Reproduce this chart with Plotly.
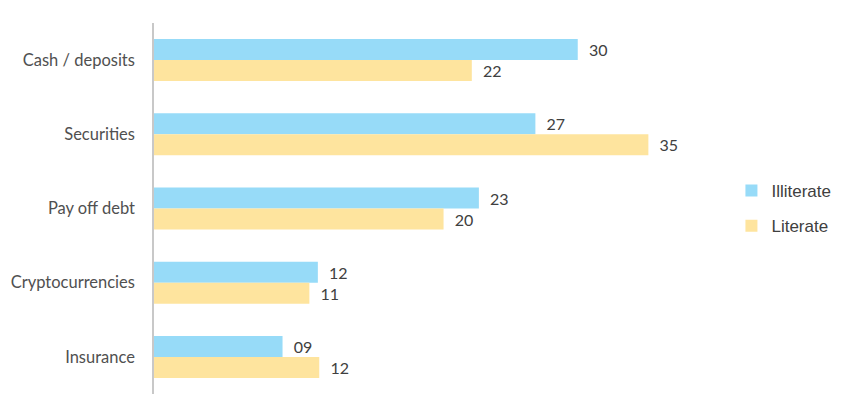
import plotly.graph_objects as go

categories = ["Cash / deposits", "Securities", "Pay off debt", "Cryptocurrencies", "Insurance"]
illiterate = [30.0, 27.0, 23.0, 11.6, 9.1]
literate = [22.5, 35.0, 20.5, 11.0, 11.7]
illiterate_labels = ["30", "27", "23", "12", "09"]
literate_labels = ["22", "35", "20", "11", "12"]

BLUE = "#97DBF8"
YELLOW = "#FEE49E"
LABEL_FONT = dict(family="Lato", size=16, color="#404040")

fig = go.Figure()
fig.add_trace(go.Bar(
    y=categories, x=illiterate, orientation="h", name="Illiterate",
    legendgroup="a",
    marker=dict(color=BLUE, line=dict(width=0)),
    text=["  " + t for t in illiterate_labels], textposition="outside",
    textfont=LABEL_FONT, cliponaxis=False,
))
fig.add_trace(go.Bar(
    y=categories, x=literate, orientation="h", name="Literate",
    legendgroup="b",
    marker=dict(color=YELLOW, line=dict(width=0)),
    text=["  " + t for t in literate_labels], textposition="outside",
    textfont=LABEL_FONT, cliponaxis=False,
))

fig.update_layout(
    width=854, height=418,
    margin=dict(l=154, r=135, t=23, b=24, autoexpand=False),
    paper_bgcolor="white", plot_bgcolor="white",
    barmode="group", bargap=0.434, bargroupgap=0.0,
    showlegend=True,
    legend=dict(
        x=1.022, y=0.5, xanchor="left", yanchor="middle",
        font=dict(family="Liberation Sans", size=17, color="#404040"),
        traceorder="grouped", itemwidth=30, tracegroupgap=10,
        bgcolor="rgba(0,0,0,0)",
    ),
    xaxis=dict(range=[0, 40], showgrid=False, zeroline=False, showticklabels=False,
               showline=False, ticks="", automargin=False),
    yaxis=dict(autorange="reversed", showgrid=False, zeroline=False,
               showline=True, linecolor="#C8C8C8", linewidth=1.5,
               ticks="", ticklabelstandoff=14, automargin=False,
               tickfont=dict(family="Lato", size=16.5, color="#505050")),
)

fig.write_html(
    "out.html",
    config={"displayModeBar": False},
    post_script="document.body.style.margin='0';document.body.style.padding='0';",
)
